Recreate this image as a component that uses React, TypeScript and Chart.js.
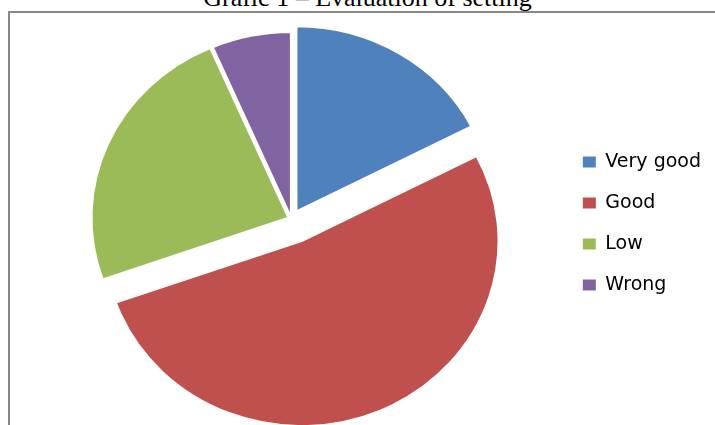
import React, { useEffect, useRef } from 'react';
import { Chart, registerables } from 'chart.js';

Chart.register(...registerables);

const TITLE = 'Grafic 1 – Evaluation of setting';
const CATEGORIES = ['Very good', 'Good', 'Low', 'Wrong'];
const VALUES = [17.4, 52.2, 23.9, 6.5];

const COLORS = ['#4F81BD', '#C0504D', '#9BBB59', '#8064A2'];
// explosion per slice (Chart.js offset units; the slice shifts by offset / 4 px)
const EXPLODE = [36, 96, 12, 8];
const PIE_RADIUS = 185;
const PIE_ASPECT = 1.065;

const pieShape = {
  id: 'pieShape',
  afterDatasetsUpdate(chart: any) {
    const meta = chart.getDatasetMeta(0);
    meta.data.forEach((arc: any, i: number) => {
      const shift = (EXPLODE[i] || 0) / 4;
      const fix = 1 - Math.sin(Math.min(Math.PI, arc.circumference || 0));
      const radiusOffset = shift * fix;
      // keep every exploded slice at the common radius
      arc.outerRadius = arc.outerRadius - radiusOffset;
      // undo the angular trimming Chart.js applies to exploded slices
      const outer = arc.outerRadius + radiusOffset;
      if (outer > 0 && radiusOffset > 0) {
        const trim = radiusOffset / Math.PI / outer / 2;
        arc.startAngle -= trim;
        arc.endAngle += trim;
      }
    });
  },
  beforeDatasetsDraw(chart: any) {
    const { left, right, top, bottom } = chart.chartArea;
    const cx = (left + right) / 2;
    const cy = (top + bottom) / 2;
    const ctx = chart.ctx;
    ctx.save();
    ctx.translate(cx, cy);
    ctx.scale(PIE_ASPECT, 1);
    ctx.translate(-cx, -cy);
  },
  afterDatasetsDraw(chart: any) {
    chart.ctx.restore();
  },
};

export default function App() {
  const ref = useRef<HTMLCanvasElement>(null);

  useEffect(() => {
    if (!ref.current) return;
    const chart = new Chart(ref.current, {
      type: 'pie',
      data: {
        labels: CATEGORIES,
        datasets: [
          {
            data: VALUES,
            backgroundColor: COLORS,
            borderColor: '#ffffff',
            borderWidth: 2,
            offset: EXPLODE,
            radius: PIE_RADIUS,
          } as any,
        ],
      },
      options: {
        animation: false,
        responsive: false,
        devicePixelRatio: 1,
        layout: { padding: { left: 22, right: 4, top: 13, bottom: 0 } },
        plugins: {
          tooltip: { enabled: false },
          legend: {
            position: 'right',
            title: { display: true, text: ' ', padding: 0, font: { size: 7.5, lineHeight: 1.2 } },
            labels: {
              boxWidth: 13,
              boxHeight: 11,
              padding: 22,
              color: '#000000',
              font: { family: '"DejaVu Sans", sans-serif', size: 19 },
              generateLabels: (c: any) =>
                (Chart as any).overrides.pie.plugins.legend.labels
                  .generateLabels(c)
                  .map((l: any) => ({ ...l, lineWidth: 0 })),
            },
          },
        },
      },
      plugins: [pieShape],
    });
    return () => chart.destroy();
  }, []);

  return (
    <div
      style={{
        position: 'fixed',
        left: 0,
        top: 0,
        width: 715,
        height: 425,
        overflow: 'hidden',
        background: '#ffffff',
      }}
    >
      <div
        style={{
          position: 'absolute',
          left: 0,
          top: -15,
          width: 735,
          textAlign: 'center',
          fontFamily: '"Liberation Serif", "Times New Roman", serif',
          fontSize: 26,
          lineHeight: '26px',
          color: '#000',
          whiteSpace: 'nowrap',
        }}
      >
        {TITLE}
      </div>
      <div
        style={{
          position: 'absolute',
          left: 8,
          top: 11,
          width: 800,
          height: 500,
          borderTop: '2px solid #878787',
          borderLeft: '2px solid #878787',
        }}
      />
      <canvas
        ref={ref}
        width={715}
        height={425}
        style={{ position: 'absolute', left: 0, top: 0, width: 715, height: 425 }}
      />
    </div>
  );
}
